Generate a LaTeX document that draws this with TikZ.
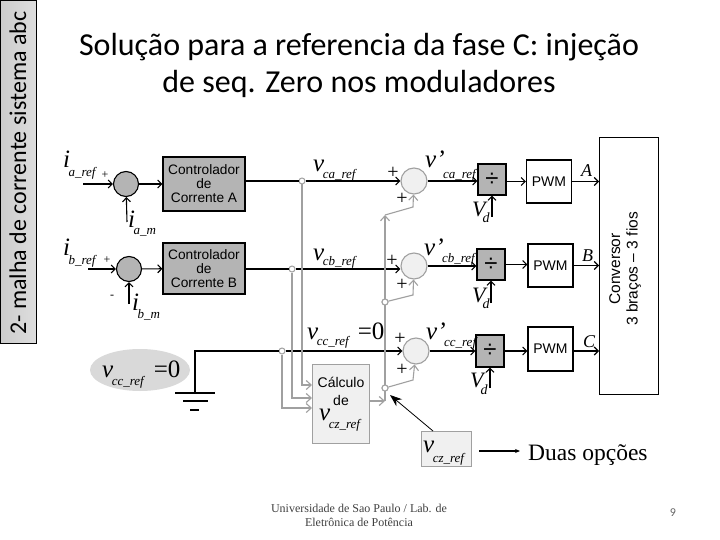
\documentclass[tikz,border=0pt]{standalone}
\usepackage{fontspec}
\setmainfont{Liberation Serif}
\setsansfont{Liberation Sans}
\newfontfamily\slidefont{Carlito}
\usetikzlibrary{arrows.meta,shapes.geometric}
\definecolor{wiregray}{HTML}{A0A0A0}
\definecolor{lightbox}{HTML}{F0F0F0}
\definecolor{midbox}{HTML}{B4B4B4}
\newcommand{\fsz}[1]{\fontsize{#1}{#1}\selectfont}
\newcommand{\sgl}[3][-9pt]{{\fsz{25}\itshape #2}\kern-1.5pt\raisebox{#1}{\fsz{13}\itshape #3}}
\newcommand{\vdl}[1][-6pt]{{\fsz{22}\itshape V}\kern-3pt\raisebox{#1}{\fsz{14}\itshape d}}
\tikzset{
  sigline/.style={line width=1.1pt, black},
  sigarrow/.style={sigline, -{Straight Barb[length=4pt,width=8pt]}},
  grayline/.style={line width=1.1pt, wiregray},
  grayarrow/.style={grayline, -{Straight Barb[length=5pt,width=9pt]}},
  sumdark/.style={circle, draw=black, line width=1.1pt, fill=midbox, minimum size=25pt, inner sep=0pt},
  sumlight/.style={circle, draw=wiregray, line width=1.1pt, fill=lightbox, minimum size=26pt, inner sep=0pt},
  ctrlbox/.style={draw=black, line width=1.1pt, fill=midbox, minimum width=82pt, inner sep=0pt,
                  align=center, font=\sffamily\fontsize{13.7}{14}\selectfont},
  pwmbox/.style={draw=black, line width=1.1pt, fill=white, minimum width=45pt, minimum height=43pt,
                 inner sep=0pt, font=\sffamily\fsz{14}},
  divbox/.style={draw=black, line width=1.1pt, fill=midbox, minimum width=28pt, minimum height=31pt,
                 inner sep=0pt, font=\sffamily\fsz{24}},
  junction/.style={circle, draw=wiregray, line width=1pt, fill=white, minimum size=6pt, inner sep=0pt},
  graybox/.style={draw=wiregray, line width=1.1pt, fill=lightbox, inner sep=0pt},
  lbl/.style={anchor=base west, inner sep=0pt},
  plusmark/.style={inner sep=0pt, font=\fsz{20}},
  phase/.style={lbl, font=\fsz{18}\itshape},
  titleline/.style={anchor=base, inner sep=0pt, font=\slidefont\fsz{32}},
}
\begin{document}
\begin{tikzpicture}[x=1pt, y=-1pt]
  \useasboundingbox (0,0) rectangle (720,540);
  \fill[white] (0,0) rectangle (720,540);

  \node[draw=black, line width=0.8pt, left color=black!20, right color=black!13, minimum width=36pt, minimum height=343pt, inner sep=0pt, anchor=north west] (malha) at (0,0) {};
  \node[rotate=90, font=\slidefont\fsz{24}, inner sep=0pt, anchor=base west] (malhatxt) at (26,335) {2- malha de corrente sistema abc};
  \node[titleline] (titlea) at (359,56) {Solução para a referencia da fase C: injeção};
  \node[titleline] (titleb) at (359,93) {de seq. Zero nos moduladores};

  \node[sumdark] (sumia) at (126,184) {};
  \node[sumdark] (sumib) at (129,269) {};
  \node[ctrlbox, minimum height=54pt] (ctrla) at (204,184) {Controlador\\de\\Corrente A};
  \node[ctrlbox, minimum height=51pt] (ctrlb) at (204,268.5) {Controlador\\de\\Corrente B};
  \coordinate (ina) at (83,184);
  \coordinate (inb) at (88,269);
  \coordinate (ima) at (127,222);
  \coordinate (imb) at (129,304);
  \draw[sigarrow] (ina) -- (sumia);
  \draw[sigarrow] (inb) -- (sumib);
  \draw[sigarrow] (ima) -- (sumia);
  \draw[sigarrow] (imb) -- (sumib);
  \draw[sigarrow] (sumia) -- (ctrla);
  \draw[sigarrow] (sumib) -- (ctrlb);

  \node[sumlight] (sumca) at (414,181) {};
  \node[sumlight] (sumcb) at (414,266) {};
  \node[sumlight] (sumcc) at (416,351) {};
  \node[junction] (jca) at (302,181) {};
  \node[junction] (jcb) at (292,269) {};
  \node[junction] (jcc) at (282,351) {};

  \node[draw=none, fill=black!15, ellipse, minimum width=100pt, minimum height=42pt, inner sep=0pt] (zeroref) at (140,370) {};
  \coordinate (gnd) at (195,393);
  \coordinate (gnda) at (175,393);
  \coordinate (gndb) at (215,393);
  \coordinate (gndc) at (183,401);
  \coordinate (gndd) at (208,401);
  \coordinate (gnde) at (190,410);
  \coordinate (gndf) at (199,410);
  \coordinate (cctop) at (195,351);
  \draw[sigline] (gnd) -- (cctop) -- (jcc);
  \draw[sigline, line width=1.4pt] (gnda) -- (gndb);
  \draw[sigline, line width=1.4pt] (gndc) -- (gndd);
  \draw[sigline, line width=1.4pt] (gnde) -- (gndf);
  \draw[sigline] (ctrla.east |- jca) -- (jca);
  \draw[sigline] (ctrlb.east |- jcb) -- (jcb);
  \draw[sigarrow] (jca) -- (sumca.west |- jca);
  \draw[sigarrow] (jcb) -- (sumcb.west |- jcb);
  \draw[sigarrow] (jcc) -- (sumcc);

  \node[graybox, minimum width=57pt, minimum height=79pt, anchor=north west] (calc) at (312,364) {};
  \node[graybox, minimum width=50pt, minimum height=35pt, anchor=north west] (czbox) at (421,431) {};
  \coordinate (cina) at (302,385);
  \coordinate (cinb) at (292,398);
  \coordinate (cinc) at (282,408);
  \draw[grayarrow] (jca) -- (cina) -- (calc.west |- cina);
  \draw[grayarrow] (jcb) -- (cinb) -- (calc.west |- cinb);
  \draw[grayarrow] (jcc) -- (cinc) -- (calc.west |- cinc);

  \coordinate (czout) at (385,401);
  \coordinate (cztop) at (385,215);
  \node[junction] (jzb) at (385,302) {};
  \node[junction] (jzc) at (385,388) {};
  \coordinate (benda) at (413,207);
  \coordinate (bendb) at (413,295);
  \coordinate (bendc) at (413,380);
  \draw[grayarrow] (calc.east |- czout) -- (czout);
  \draw[grayarrow] (czout) -- (cztop);
  \draw[grayarrow] (cztop) -- (benda) -- (sumca);
  \draw[grayarrow] (jzb) -- (bendb) -- (sumcb);
  \draw[grayarrow] (jzc) -- (bendc) -- (sumcc);
  \node[junction] at (jzb) {};
  \node[junction] at (jzc) {};

  \node[divbox] (divca) at (492,179.5) {÷};
  \node[divbox] (divcb) at (491,264.5) {÷};
  \node[divbox, minimum height=32pt] (divcc) at (490,351) {÷};
  \node[pwmbox] (pwma) at (549,181.5) {PWM};
  \node[pwmbox] (pwmb) at (550.5,265.5) {PWM};
  \node[pwmbox, minimum height=44pt] (pwmc) at (550.5,349) {PWM};
  \node[draw=black, line width=1.1pt, fill=white, minimum width=59pt, minimum height=257pt, inner sep=0pt, anchor=north west] (conv) at (599,137) {};
  \node[rotate=90, align=center, font=\sffamily\fsz{15.5}, inner sep=0pt] (convtxt) at (625,269) {Conversor\\[2pt]3 braços – 3 fios};

  \draw[sigarrow] (sumca) -- (divca.west |- sumca);
  \draw[sigarrow] (sumcb) -- (divcb.west |- sumcb);
  \draw[sigarrow] (sumcc) -- (divcc);
  \draw[sigarrow] (divca.east |- pwma) -- (pwma);
  \draw[sigarrow] (divcb) -- (pwmb.west |- divcb);
  \draw[sigarrow] (divcc) -- (pwmc.west |- divcc);
  \draw[sigarrow] (pwma) -- (conv.west |- pwma);
  \draw[sigarrow] (pwmb) -- (conv.west |- pwmb);
  \draw[sigarrow] (pwmc.east |- divcc) -- (conv.west |- divcc);
  \coordinate (vda) at (492,217);
  \coordinate (vdb) at (491,303);
  \coordinate (vdc) at (490,388);
  \draw[sigarrow] (vda) -- (divca);
  \draw[sigarrow] (vdb) -- (divcb);
  \draw[sigarrow] (vdc) -- (divcc);

  \coordinate (czsrc) at (433,431);
  \coordinate (czptr) at (390,395);
  \draw[line width=0.8pt, -{Stealth[length=12pt,width=9pt]}] (czsrc) -- (czptr);
  \coordinate (optsrc) at (479,451);
  \coordinate (opttip) at (520,451);
  \draw[line width=1.1pt, -{Stealth[length=5pt,width=4pt]}] (optsrc) -- (opttip);

  \node[lbl] (iaref) at (63,168) {\sgl{i}{a\_ref}};
  \node[lbl] (iam) at (128,228) {\sgl[-7pt]{i}{a\_m}};
  \node[lbl] (ibref) at (63,255) {\sgl{i}{b\_ref}};
  \node[lbl] (ibm) at (132,310) {\sgl[-8pt]{i}{b\_m}};
  \node[plusmark, font=\fsz{12}] (pia) at (105,175) {+};
  \node[plusmark, font=\fsz{12}] (pib) at (107,260) {+};
  \node[plusmark, font=\fsz{12}] (mib) at (112,297) {-};
  \node[lbl] (vca) at (313,172) {\sgl[-6pt]{v}{ca\_ref}};
  \node[lbl] (vcb) at (313,260) {\sgl[-5pt]{v}{cb\_ref}};
  \node[lbl] (vcc) at (307,339) {\sgl[-6pt]{v}{cc\_ref}\kern9pt{\fsz{25}=0}};
  \node[lbl] (vzero) at (102,377) {\sgl[-8pt]{v}{cc\_ref}\kern10pt{\fsz{25}=0}};
  \node[plusmark] (pca) at (393,173) {+};
  \node[plusmark] (pcb) at (392,261) {+};
  \node[plusmark] (pcc) at (400,339) {+};
  \node[plusmark] (pza) at (402,199) {+};
  \node[plusmark] (pzb) at (402,285) {+};
  \node[plusmark] (pzc) at (402,370) {+};
  \node[lbl] (vpa) at (425,168) {\sgl[-10pt]{v'}{ca\_ref}};
  \node[lbl] (vpb) at (424,255) {\sgl[-7pt]{v'}{cb\_ref}};
  \node[lbl] (vpc) at (426,339) {\sgl[-7pt]{v'}{cc\_ref}};
  \node[lbl] (vda1) at (472,216) {\vdl};
  \node[lbl] (vdb1) at (472,302) {\vdl};
  \node[lbl] (vdc1) at (470,387) {\vdl[-7pt]};
  \node[phase] (pha) at (581,177) {A};
  \node[phase] (phb) at (582,261) {B};
  \node[phase] (phc) at (583,347) {C};
  \node[anchor=base, inner sep=0pt, font=\sffamily\fsz{14}] (calca) at (341,387) {Cálculo};
  \node[anchor=base, inner sep=0pt, font=\sffamily\fsz{14}] (calcb) at (341,405) {de};
  \node[lbl] (vcz) at (319,420) {\sgl[-8pt]{v}{cz\_ref}};
  \node[lbl] (vczb) at (423,452) {\sgl[-10pt]{v}{cz\_ref}};
  \node[lbl, font=\fsz{23.5}] (duas) at (528,460) {Duas opções};

  \node[align=center, font=\fsz{12}, text=black!75, inner sep=0pt] (rodape) at (359,515) {Universidade de Sao Paulo / Lab. de\\[2pt]Eletrônica de Potência};
  \node[font=\slidefont\fsz{12}, text=black!60, inner sep=0pt] (pagina) at (673,513) {9};
\end{tikzpicture}
\end{document}
